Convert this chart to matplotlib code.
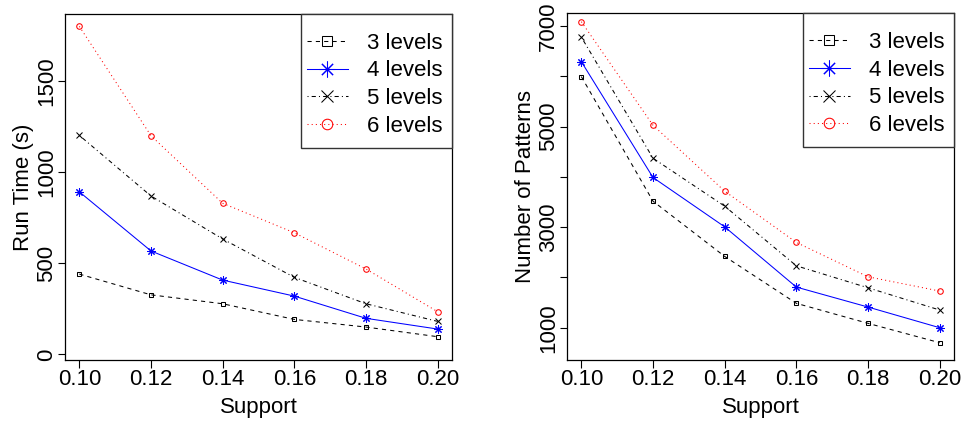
import matplotlib
matplotlib.use("Agg")
import matplotlib.pyplot as plt
from matplotlib.patches import Rectangle

plt.rcParams["font.family"] = ["Liberation Sans", "DejaVu Sans"]

support = [0.10, 0.12, 0.14, 0.16, 0.18, 0.20]
series_labels = ["3 levels", "4 levels", "5 levels", "6 levels"]

# run time (s) per number of levels
runtime_3 = [441, 327, 278, 192, 150, 97]
runtime_4 = [893, 568, 408, 320, 198, 139]
runtime_5 = [1203, 870, 634, 423, 278, 181]
runtime_6 = [1802, 1201, 830, 668, 469, 234]

# number of patterns per number of levels
patterns_3 = [5993, 3516, 2418, 1485, 1087, 702]
patterns_4 = [6291, 3987, 3006, 1808, 1411, 1000]
patterns_5 = [6779, 4370, 3417, 2231, 1794, 1352]
patterns_6 = [7085, 5026, 3715, 2696, 2013, 1729]

styles = [
    dict(color="black", marker="s", linestyle=(0, (4, 4)), mfc="none"),
    dict(color="#0000ff", marker=(8, 2, 0), linestyle="-", mfc="none"),
    dict(color="black", marker="x", linestyle=(0, (1, 3, 4, 3)), mfc="none"),
    dict(color="#ff0000", marker="o", linestyle=(0, (1, 3)), mfc="none"),
]
msizes = [3.5, 6, 4.5, 4]
FS = 16

fig = plt.figure(figsize=(9.67, 4.21), dpi=100)
ax1 = fig.add_axes([65 / 967, 61 / 421, 387 / 967, 346 / 421])
ax2 = fig.add_axes([567 / 967, 61 / 421, 387 / 967, 346.7 / 421])


def draw(ax, data):
    for lab, ys, st, ms in zip(series_labels, data, styles, msizes):
        ax.plot(support, ys, label=lab, lw=0.75, ms=ms, mew=0.75, **st)
    ax.set_xlim(0.096, 0.204)
    ax.set_xticks(support)
    ax.set_xticklabels([f"{s:.2f}" for s in support], fontsize=FS)
    ax.set_xlabel("Support", fontsize=FS, labelpad=5)
    ax.tick_params(axis="x", direction="out", length=5.5, width=0.8, pad=1)
    ax.tick_params(axis="y", direction="out", length=5, width=0.8, pad=0.5)
    for sp in ax.spines.values():
        sp.set_linewidth(0.9)
    # legend box drawn by hand (R style: wide vertical padding)
    ax.add_patch(Rectangle((0.610, 0.614), 0.390, 0.386, transform=ax.transAxes,
                           facecolor="white", edgecolor="#333333", lw=1.0,
                           zorder=3, clip_on=False))
    leg = ax.legend(loc="upper left", bbox_to_anchor=(0.625, 0.946),
                    borderaxespad=0, borderpad=0, frameon=False,
                    fontsize=FS, markerscale=1.9, handlelength=1.85,
                    handletextpad=0.86, labelspacing=0.30, numpoints=1)
    leg.set_zorder(4)


draw(ax1, [runtime_3, runtime_4, runtime_5, runtime_6])
ax1.set_ylim(-31, 1870)
ax1.set_yticks([0, 500, 1000, 1500])
ax1.set_yticklabels(["0", "500", "1000", "1500"], rotation=90, va="center",
                    fontsize=FS)
ax1.set_ylabel("Run Time (s)", fontsize=FS, labelpad=2)

draw(ax2, [patterns_3, patterns_4, patterns_5, patterns_6])
ax2.set_ylim(358, 7252)
pticks = [1000, 2000, 3000, 4000, 5000, 6000, 7000]
ax2.set_yticks(pticks)
ax2.set_yticklabels([str(t) if t % 2000 else "" for t in pticks], rotation=90,
                    va="center", fontsize=FS)
ax2.set_ylabel("Number of Patterns", fontsize=FS, labelpad=2)

fig.savefig("out.png", dpi=100)
